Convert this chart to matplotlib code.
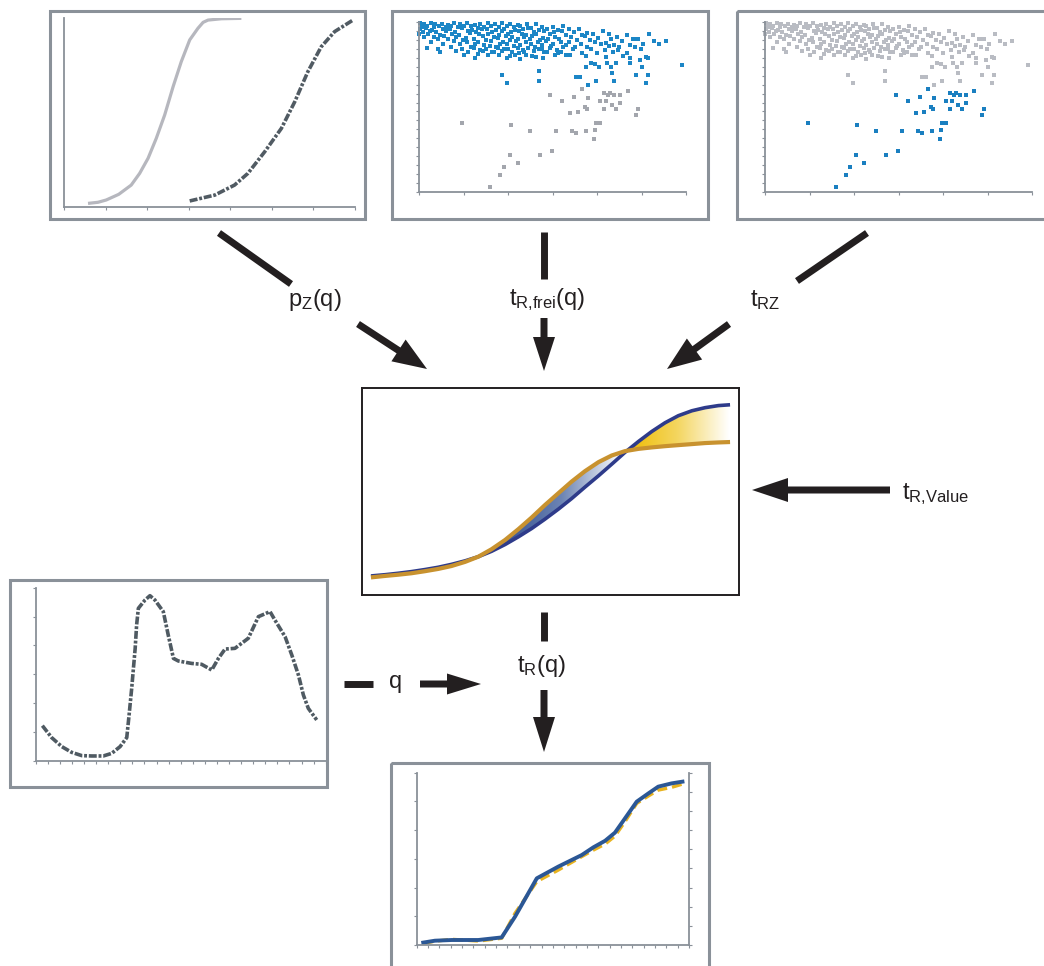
import numpy as np
import matplotlib.pyplot as plt
from matplotlib.patches import Rectangle, FancyArrow
from matplotlib.colors import LinearSegmentedColormap
from matplotlib.path import Path

W, H = 1044, 966
GRAY = '#8a9199'
INK = '#231f20'
FONT = ['Liberation Sans Narrow', 'Liberation Sans', 'DejaVu Sans']

# --- panel 1: two cumulative curves (x 0..100, y 0..1)
cdf_light_x = [8.8, 11.7, 14.5, 18.8, 23.1, 26.0, 28.9, 31.7, 34.6, 37.5, 40.3, 43.2, 46.0,
               47.8, 49.5, 54.1, 60.4]
cdf_light_y = [0.02, 0.025, 0.037, 0.067, 0.116, 0.178, 0.258, 0.363, 0.487, 0.637, 0.769,
               0.884, 0.945, 0.977, 0.989, 0.996, 0.998]
cdf_dark_x = [43.2, 51.8, 58.6, 63.2, 69.0, 74.7, 79.3, 83.8, 88.4, 93.0, 99.3]
cdf_dark_y = [0.032, 0.063, 0.116, 0.178, 0.293, 0.416, 0.557, 0.716, 0.848, 0.928, 0.989]

# --- panels 2/3: scatter, upper dense cloud and lower sparse points (0..100)
top_x = [0.5, 2, 4.5, 6, 8.5, 11, 13, 15.5, 18, 21, 23, 26, 28.5, 31, 34, 37, 40.5, 44,
         1, 3, 5.5, 7.5, 10, 12, 14.5, 17, 19.5, 22, 24.5, 27, 30, 33, 35.5, 38, 42, 46, 50, 54,
         0.5, 2.5, 5, 9, 11.5, 16, 20, 23.5, 25.5, 29, 32, 36, 39, 41, 45, 48, 52, 56, 60,
         1.5, 4, 6.5, 10, 13.5, 18.5, 21.5, 27.5, 31, 34.5, 37.5, 43, 47, 50.5, 53.5, 58, 63, 69,
         0, 3.5, 8, 12.5, 15, 19, 22.5, 26, 30, 33.5, 38.5, 40, 44, 49, 55, 61, 65, 71, 78, 86,
         2, 5.5, 9.5, 14, 17.5, 24, 28, 32.5, 35, 39.5, 42.5, 46.5, 51, 57, 62, 67, 74,
         7, 11, 16.5, 20.5, 25, 29.5, 34, 37, 41.5, 45.5, 48.5, 52.5, 59, 64, 72, 80, 88,
         4.5, 13, 18, 22, 27, 31.5, 36.5, 40, 44.5, 47.5, 53, 56, 66, 70, 76, 82,
         9, 15.5, 21, 24.5, 30.5, 33, 38, 42, 46, 50, 55, 60.5, 68, 73, 79, 84, 90,
         19.5, 26.5, 29, 35.5, 43.5, 49.5, 54, 58.5, 63, 71, 75, 81,
         23, 32, 39, 45, 51.5, 57.5, 64.5, 69.5, 74.5, 83,
         28, 37.5, 47, 52, 61, 66.5, 72.5, 78,
         34, 44, 56.5, 62.5, 70, 76.5, 85,
         3, 7, 12, 16, 20.5, 25, 29.5, 33.5, 37, 41, 46, 49,
         8, 14, 18.5, 24, 27.5, 31, 35, 39.5, 43, 48, 53,
         17, 22, 26, 30, 36, 40, 42.5, 51, 55,
         21, 33, 38, 46.5,
         62.5, 64.5, 65.8, 67.3, 70.3, 71.8, 73.8, 79.0, 79.1, 82.8, 83.4, 85.6, 92.5, 81.3,
         31.1, 32.8, 45.0, 45.0, 58.9, 60.4, 63.3, 66.4, 73.0, 81.3, 85.1, 85.7, 72.2, 98.4]
top_y = [99.2, 98.6, 99.5, 98.9, 99.1, 98.4, 99.6, 98.8, 99.3, 98.5, 99.0, 99.4, 98.7, 99.2, 98.9, 98.3, 99.0, 98.6,
         97.3, 97.9, 96.8, 97.6, 97.1, 97.8, 96.9, 97.4, 97.7, 96.6, 97.2, 97.9, 96.8, 97.5, 97.0, 97.6, 96.7, 97.3, 96.9, 97.4,
         95.8, 96.2, 95.4, 96.0, 95.6, 96.3, 95.2, 95.9, 96.1, 95.5, 96.0, 95.3, 95.8, 96.2, 95.4, 95.9, 95.1, 95.7, 96.0,
         94.3, 94.8, 94.1, 94.6, 94.0, 94.7, 94.4, 93.9, 94.6, 94.2, 94.8, 94.0, 94.5, 94.1, 94.7, 94.3, 93.8, 94.5,
         92.8, 93.2, 92.5, 93.0, 92.6, 93.3, 92.7, 93.1, 92.4, 92.9, 93.2, 92.5, 92.8, 93.1, 92.6, 92.3, 93.0, 92.7, 92.4, 92.9,
         91.4, 91.0, 91.7, 91.2, 90.8, 91.5, 91.1, 91.8, 90.9, 91.3, 91.6, 90.7, 91.4, 91.0, 91.5, 90.8, 91.2,
         89.8, 90.2, 89.5, 90.0, 89.6, 90.3, 89.4, 89.9, 90.1, 89.5, 89.8, 90.2, 89.3, 89.7, 90.0, 89.8, 88.6,
         88.3, 88.7, 88.1, 88.5, 88.9, 88.2, 88.6, 88.0, 88.4, 88.8, 88.1, 88.5, 88.3, 87.9, 88.6, 89.8,
         87.2, 86.8, 87.0, 86.5, 87.3, 86.9, 86.6, 87.1, 86.7, 87.2, 86.4, 86.9, 87.0, 86.6, 86.3, 87.1, 86.8,
         85.4, 85.8, 85.1, 85.6, 85.2, 85.7, 85.0, 85.5, 85.3, 85.6, 85.1, 85.4,
         83.8, 84.2, 83.6, 84.0, 83.5, 83.9, 84.1, 83.7, 83.4, 84.0,
         82.1, 81.7, 82.3, 81.9, 82.0, 81.6, 82.2, 81.8,
         80.1, 79.6, 80.3, 79.8, 79.5, 80.0, 79.7,
         84.6, 84.2, 85.0, 84.4, 84.8, 84.1, 84.7, 84.3, 84.9, 84.5, 84.0, 84.6,
         82.6, 82.9, 82.3, 82.7, 82.4, 82.8, 82.2, 82.6, 82.9, 82.3, 82.5,
         80.6, 80.9, 80.3, 80.7, 80.4, 80.8, 80.2, 80.5, 80.7,
         78.6, 78.9, 78.3, 78.7,
         73.3, 75.7, 75.3, 73.3, 75.7, 73.3, 75.7, 78.8, 75.7, 77.7, 73.3, 78.8, 88.6, 89.8,
         68.6, 63.9, 71.0, 65.0, 67.6, 67.6, 62.7, 65.0, 65.0, 68.6, 63.9, 68.6, 69.8, 74.9]
low_x = [26.7, 30.4, 31.9, 34.2, 37.2, 41.5, 45.3, 49.1, 49.9, 51.4, 53.6, 56.6, 57.4, 58.1,
         58.9, 59.6, 61.1, 62.3, 62.6, 63.1, 63.3, 65.6, 65.8, 66.3, 67.8, 67.8, 69.3, 69.3,
         70.1, 70.8, 71.6, 72.3, 73.1, 73.8, 75.3, 75.3, 78.3, 81.3, 82.0, 16.2, 34.4]
low_y = [2.9, 9.8, 14.5, 21.6, 16.9, 35.7, 21.6, 56.9, 23.9, 35.7, 53.3, 46.3, 35.7, 55.7,
         34.5, 47.1, 60.4, 50.2, 35.7, 48.6, 55.3, 31.0, 36.3, 40.4, 40.4, 53.3, 58.4, 48.6,
         53.3, 56.9, 58.0, 51.0, 56.9, 48.6, 56.9, 52.2, 59.2, 45.1, 48.6, 40.8, 39.2]

# --- centre panel: two S-curves sharing x (0..100)
mid_x = [2.5, 6.2, 9.7, 13.2, 16.8, 20.3, 23.8, 27.4, 30.9, 34.4, 38.0, 41.5, 45.0, 48.5,
         52.1, 55.6, 59.1, 62.7, 66.2, 69.7, 73.3, 76.8, 80.3, 83.8, 87.4, 90.9, 94.4, 97.5]
mid_blue = [9.2, 9.8, 10.5, 11.3, 12.3, 13.4, 14.8, 16.5, 18.5, 21.1, 24.4, 28.1, 32.1, 36.6,
            41.5, 46.6, 52.1, 57.6, 63.2, 68.9, 74.2, 79.0, 83.2, 86.6, 89.0, 90.5, 91.5, 91.9]
mid_orange = [8.5, 9.2, 9.8, 10.5, 11.5, 12.6, 14.0, 16.0, 18.5, 22.1, 26.6, 31.8, 37.4, 43.4,
              49.2, 54.8, 59.8, 64.2, 67.4, 69.5, 70.6, 71.3, 71.9, 72.4, 72.9, 73.4, 73.7, 73.9]

# --- lower-left panel: q profile (0..100)
q_x = [2.3, 5.5, 9.0, 12.4, 15.9, 19.3, 23.3, 26.2, 29.1, 31.4, 32.2, 33.1, 33.7, 34.3, 34.8,
       35.4, 37.7, 39.4, 41.1, 44.0, 45.7, 47.5, 49.2, 53.8, 57.2, 60.7, 63.0, 65.3, 68.7,
       73.3, 76.8, 80.8, 82.5, 86.0, 88.3, 90.6, 92.3, 94.0, 96.9]
q_y = [20.4, 13.5, 8.3, 5.0, 3.1, 2.9, 2.9, 4.4, 8.3, 13.5, 26.5, 41.9, 53.5, 65.0, 78.5,
       88.1, 92.9, 95.4, 92.9, 86.2, 72.7, 59.2, 57.7, 56.3, 55.8, 52.5, 59.2, 64.6, 65.0,
       70.8, 83.3, 86.2, 81.3, 71.7, 61.2, 49.6, 38.1, 30.4, 23.7]

# --- bottom panel: resulting t_R(q)
res_x = [2.4, 6.7, 12.9, 22.6, 31.2, 36.1, 44.1, 52.0, 60.6, 64.9, 69.2, 72.8, 76.5, 80.8,
         85.1, 88.7, 93.6, 97.6]
res_blue = [1.4, 2.5, 2.9, 2.9, 4.4, 16.4, 38.7, 45.5, 52.2, 56.7, 60.5, 65.2, 73.5, 83.2,
            88.0, 91.9, 93.8, 94.8]
res_orange = [1.0, 2.2, 3.3, 2.3, 3.9, 18.4, 36.8, 43.5, 51.3, 55.1, 58.6, 63.2, 71.6, 82.2,
              86.5, 89.9, 91.5, 93.4]

fig = plt.figure(figsize=(W / 100, H / 100), dpi=100)

# overlay in pixel coordinates for frames, arrows and labels
ov = fig.add_axes([0, 0, 1, 1])
ov.set_xlim(0, W)
ov.set_ylim(H, 0)
ov.axis('off')


def px_axes(left, top, right, bottom):
    ax = fig.add_axes([left / W, 1 - bottom / H, (right - left) / W, (bottom - top) / H])
    ax.patch.set_alpha(0)
    return ax


def style(ax, nx, ny, xlim=(0, 100), ylim=(0, 100)):
    ax.set_xlim(*xlim)
    ax.set_ylim(*ylim)
    for s in ['top', 'right']:
        ax.spines[s].set_visible(False)
    for s in ['left', 'bottom']:
        ax.spines[s].set_color(GRAY)
        ax.spines[s].set_linewidth(1.3)
    ax.set_xticks(np.linspace(xlim[0], xlim[1], nx + 1))
    if ny:
        ax.set_yticks(np.linspace(ylim[0], ylim[1], ny + 1))
    else:
        ax.set_yticks([])
    ax.tick_params(length=2.5, width=0.8, color=GRAY, labelbottom=False, labelleft=False)


def frame(left, top, right, bottom, color=GRAY, lw=2.2):
    ov.add_patch(Rectangle((left, top), right - left, bottom - top, fill=False,
                           edgecolor=color, linewidth=lw))


def arrow(x0, y0, x1, y1, hw=25, hl=32):
    ov.add_patch(FancyArrow(x0, y0, x1 - x0, y1 - y0, width=7, head_width=hw, head_length=hl,
                            length_includes_head=True, color=INK, linewidth=0))


def bar(x0, y0, x1, y1):
    ov.plot([x0, x1], [y0, y1], color=INK, lw=5, solid_capstyle='butt')


def label(x, y, s, ha='center'):
    ov.text(x, y, s, ha=ha, va='center', fontsize=17, color=INK, family=FONT)


# frames
frame(50, 11, 365, 219)
frame(392, 11, 708, 219)
frame(737, 11, 1050, 219)
frame(10, 580, 327, 787)
frame(391, 763, 709, 975)

# panel 1
ax1 = px_axes(64, 18, 355, 207)
style(ax1, 7, 0, ylim=(0, 1))
ax1.plot(cdf_light_x, cdf_light_y, color='#b6b7be', lw=2.3, solid_joinstyle='round')
ax1.plot(cdf_dark_x, cdf_dark_y, color='#515b63', lw=2.6, linestyle=(0, (2.2, 0.5, 0.8, 0.5)))

# panel 2
ax2 = px_axes(419, 22, 686, 192)
style(ax2, 6, 19)
ax2.scatter(low_x, low_y, s=5, marker='s', color='#a3a6ad', linewidths=0)
ax2.scatter(top_x, top_y, s=5, marker='s', color='#1c86c6', linewidths=0, clip_on=False)

# panel 3
ax3 = px_axes(765, 22, 1032, 192)
style(ax3, 6, 19)
ax3.scatter(top_x, top_y, s=5, marker='s', color='#b9bcc3', linewidths=0, clip_on=False)
ax3.scatter(low_x, low_y, s=7, marker='s', color='#1a7fc0', linewidths=0)

# centre panel with gradient fills
axm = px_axes(361.5, 388, 739.5, 595)
for s in axm.spines.values():
    s.set_color(INK)
    s.set_linewidth(1.4)
axm.set_xticks([])
axm.set_yticks([])
mx = np.array(mid_x)
mb = np.array(mid_blue)
mo = np.array(mid_orange)
grad = np.linspace(0, 1, 256).reshape(1, -1)

fb_blue = axm.fill_between(mx, mb, mo, where=(mo >= mb) & (mx > 30), interpolate=True,
                           facecolor='none', edgecolor='none')
cm_blue = LinearSegmentedColormap.from_list('b', ['#34508f', '#6c84b4', '#ffffff'])
im_b = axm.imshow(grad, extent=[37, 69, 0, 100], cmap=cm_blue, aspect='auto', zorder=1)
im_b.set_clip_path(Path.make_compound_path(*fb_blue.get_paths()), axm.transData)

fb_yel = axm.fill_between(mx, mb, mo, where=(mb >= mo) & (mx > 60), interpolate=True,
                          facecolor='none', edgecolor='none')
cm_yel = LinearSegmentedColormap.from_list('y', ['#efbb00', '#f4d660', '#ffffff'])
im_y = axm.imshow(grad, extent=[70, 97, 0, 100], cmap=cm_yel, aspect='auto', zorder=1)
im_y.set_clip_path(Path.make_compound_path(*fb_yel.get_paths()), axm.transData)

axm.plot(mid_x, mid_blue, color='#2e3b8a', lw=2.6, zorder=3, solid_capstyle='butt',
         solid_joinstyle='round')
axm.plot(mid_x, mid_orange, color='#c8922f', lw=3.0, zorder=4, solid_capstyle='butt',
         solid_joinstyle='round')
axm.set_xlim(0, 100)
axm.set_ylim(0, 100)

# lower-left panel
axq = px_axes(35.7, 587.7, 325.7, 761)
style(axq, 24, 6)
axq.plot(q_x, q_y, color='#4f5a62', lw=2.6, linestyle=(0, (2.2, 0.5, 0.8, 0.5)))

# bottom panel
axr = px_axes(416.7, 772.7, 689, 945)
style(axr, 24, 6)
axr.spines['right'].set_visible(True)
axr.spines['right'].set_color(GRAY)
axr.spines['right'].set_linewidth(1.3)
axr2 = axr.twinx()
axr2.set_ylim(0, 100)
axr2.set_yticks(np.linspace(0, 100, 10))
axr2.tick_params(length=2.5, width=0.8, color=GRAY, labelright=False)
for s in axr2.spines.values():
    s.set_visible(False)
axr.plot(res_x, res_orange, color='#e8b320', lw=2.4, linestyle=(0, (3, 1.5)))
axr.plot(res_x, res_blue, color='#2b5795', lw=2.8)

# arrows and connectors
bar(219, 233, 291, 284)
arrow(358, 324, 427, 369, hw=26, hl=34)
bar(544, 232, 544, 279)
arrow(544, 318, 544, 371, hw=22, hl=34)
bar(867, 233, 797, 281)
arrow(729, 324, 667, 369, hw=26, hl=34)
arrow(890, 490, 752, 490, hw=24, hl=36)
bar(544, 612, 544, 641)
arrow(544, 690, 544, 752, hw=22, hl=35)
bar(344, 684, 373, 684)
arrow(420, 684, 481, 684, hw=21, hl=34)

label(315, 300, r'$\mathregular{p_Z(q)}$')
label(547, 300, r'$\mathregular{t_{R{,}frei}(q)}$')
label(765, 300, r'$\mathregular{t_{RZ}}$')
label(902, 494, r'$\mathregular{t_{R{,}Value}}$', ha='left')
label(541, 666, r'$\mathregular{t_R(q)}$')
label(396, 682, 'q')

fig.savefig('out.png', dpi=100)
